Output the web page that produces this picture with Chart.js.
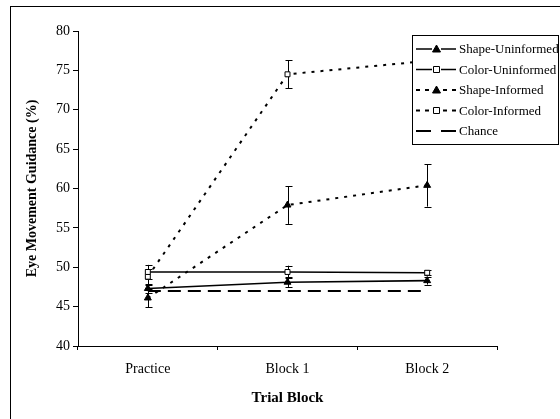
<!DOCTYPE html>
<html>
<head>
<meta charset="utf-8">
<script src="https://cdn.jsdelivr.net/npm/chart.js@4.4.0/dist/chart.umd.min.js"></script>
<style>
  html, body { margin: 0; padding: 0; background: #fff; }
  #wrap { width: 560px; height: 419px; position: relative; }
</style>
</head>
<body>
<div id="wrap"><canvas id="chart" width="560" height="419"></canvas></div>
<script>
// ---------- data ----------
const categories = ["Practice", "Block 1", "Block 2"];
const shapeUninformed = [47.3, 48.1, 48.3];
const shapeUninformedErr = [0.6, 0.6, 0.5];
const colorUninformed = [49.4, 49.4, 49.3];
const colorUninformedErr = [0.9, 0.8, 0.3];
const shapeInformed = [46.1, 57.9, 60.4];
const shapeInformedErr = [1.2, 2.4, 2.7];
const colorInformed = [48.8, 74.5, 76.2];
const colorInformedErr = [1.0, 1.8, 1.5];
const chance = [47, 47, 47];
const yTicks = [40, 45, 50, 55, 60, 65, 70, 75, 80];

const FONT = "'Liberation Serif', 'Times New Roman', serif";

function series(label, data, err, opts) {
  return Object.assign({
    label, data, err,
    borderColor: "#000",
    backgroundColor: "#000",
    pointBorderColor: "#000",
    pointBorderWidth: 1,
    borderWidth: 1.6,
    tension: 0,
    clip: false
  }, opts);
}

const datasets = [
  series("Shape-Uninformed", shapeUninformed, shapeUninformedErr, {
    pointStyle: "triangle", pointRadius: 4, pointBackgroundColor: "#000"
  }),
  series("Color-Uninformed", colorUninformed, colorUninformedErr, {
    pointStyle: "rect", pointRadius: 3.5, pointBackgroundColor: "#fff"
  }),
  series("Shape-Informed", shapeInformed, shapeInformedErr, {
    pointStyle: "triangle", pointRadius: 4, pointBackgroundColor: "#000",
    borderDash: [3, 6], borderWidth: 2
  }),
  series("Color-Informed", colorInformed, colorInformedErr, {
    pointStyle: "rect", pointRadius: 3.5, pointBackgroundColor: "#fff",
    borderDash: [3, 6], borderWidth: 2
  }),
  series("Chance", chance, null, {
    pointRadius: 0, borderDash: [13, 7], borderWidth: 2
  })
];

// ---------- error bars (drawn through the scales) ----------
const errorBars = {
  id: "errorBars",
  beforeDatasetsDraw(chart) {
    const ctx = chart.ctx;
    const y = chart.scales.y;
    ctx.save();
    ctx.strokeStyle = "#000";
    ctx.lineWidth = 1;
    chart.data.datasets.forEach((ds, i) => {
      if (!ds.err) return;
      const meta = chart.getDatasetMeta(i);
      meta.data.forEach((pt, j) => {
        const x = Math.round(pt.x) + 0.5;
        const top = y.getPixelForValue(ds.data[j] + ds.err[j]);
        const bot = y.getPixelForValue(ds.data[j] - ds.err[j]);
        ctx.beginPath();
        ctx.moveTo(x, top); ctx.lineTo(x, bot);
        ctx.moveTo(x - 3, Math.round(top) + 0.5); ctx.lineTo(x + 4, Math.round(top) + 0.5);
        ctx.moveTo(x - 3, Math.round(bot) + 0.5); ctx.lineTo(x + 4, Math.round(bot) + 0.5);
        ctx.stroke();
      });
    });
    ctx.restore();
  }
};

// ---------- frame + boxed legend ----------
const frameLegend = {
  id: "frameLegend",
  afterDraw(chart) {
    const ctx = chart.ctx;
    ctx.save();
    ctx.strokeStyle = "#000";
    ctx.lineWidth = 1;
    ctx.strokeRect(10.5, 6.5, 570, 430);

    const bx = 412, by = 35, bw = 146, bh = 109;
    ctx.fillStyle = "#fff";
    ctx.fillRect(bx, by, bw, bh);
    ctx.strokeRect(bx + 0.5, by + 0.5, bw, bh);

    ctx.font = "13px " + FONT;
    ctx.textBaseline = "middle";
    chart.data.datasets.forEach((ds, i) => {
      const ry = by + 14 + i * 20.5;
      ctx.save();
      ctx.strokeStyle = "#000";
      ctx.lineWidth = ds.borderWidth;
      ctx.setLineDash(ds.borderDash ? [4, 5] : []);
      if (ds.label === "Chance") ctx.setLineDash([15, 10]);
      ctx.beginPath();
      ctx.moveTo(416, ry); ctx.lineTo(456, ry);
      ctx.stroke();
      ctx.restore();
      if (ds.pointRadius > 0) {
        ctx.fillStyle = "#fff";
        ctx.fillRect(432, ry - 4, 9, 8);
        ctx.fillStyle = ds.pointBackgroundColor;
        ctx.strokeStyle = "#000";
        ctx.lineWidth = 1;
        ctx.beginPath();
        if (ds.pointStyle === "rect") {
          ctx.rect(433.5, ry - 3, 6, 6);
        } else {
          ctx.moveTo(436.5, ry - 4); ctx.lineTo(440.5, ry + 3); ctx.lineTo(432.5, ry + 3); ctx.closePath();
        }
        ctx.fill(); ctx.stroke();
      }
      ctx.fillStyle = "#000";
      ctx.fillText(ds.label, 459, ry + 1);
    });
    ctx.restore();
  }
};

new Chart(document.getElementById("chart"), {
  type: "line",
  data: { labels: categories, datasets },
  options: {
    responsive: false,
    animation: false,
    layout: { padding: { left: 24, top: 31, right: 63, bottom: 8 } },
    plugins: { legend: { display: false }, tooltip: { enabled: false } },
    scales: {
      x: {
        offset: true,
        grid: { offset: true, drawOnChartArea: false, drawTicks: true, tickLength: 4, color: "#000" },
        border: { color: "#000", width: 1 },
        ticks: { color: "#000", font: { family: FONT, size: 14 }, padding: 11 },
        title: { display: true, text: "Trial Block", color: "#000",
                 font: { family: FONT, size: 15, weight: "bold" }, padding: { top: 6 } },
        afterFit(scale) { scale.height = 65; }
      },
      y: {
        min: 40, max: 80,
        afterBuildTicks(scale) { scale.ticks = yTicks.map(v => ({ value: v })); },
        grid: { drawOnChartArea: false, drawTicks: true, tickLength: 5, color: "#000" },
        border: { color: "#000", width: 1 },
        ticks: { color: "#000", font: { family: FONT, size: 14 }, padding: 3 },
        title: { display: true, text: "Eye Movement Guidance (%)", color: "#000",
                 font: { family: FONT, size: 14, weight: "bold" }, padding: { top: 0, bottom: 4 } },
        afterFit(scale) { scale.width = 54; }
      }
    }
  },
  plugins: [errorBars, frameLegend]
});
</script>
</body>
</html>
